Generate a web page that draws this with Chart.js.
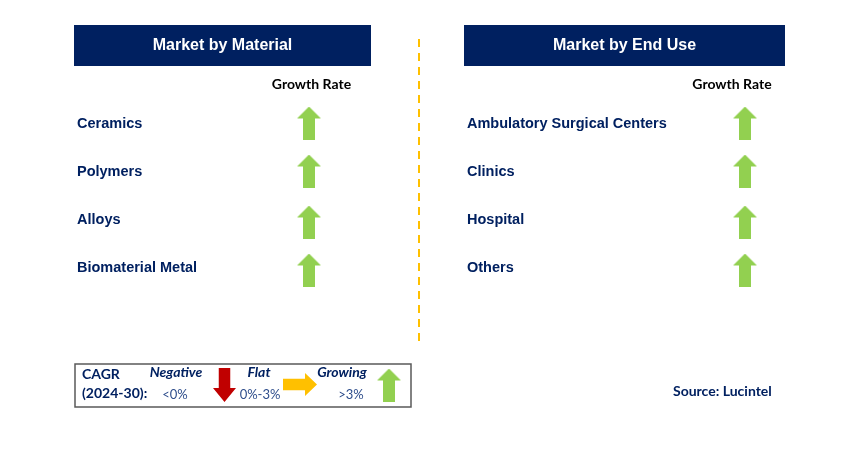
<!DOCTYPE html>
<html>
<head>
<meta charset="utf-8">
<script src="https://cdn.jsdelivr.net/npm/chart.js@4.4.1/dist/chart.umd.min.js"></script>
<style>
  html, body { margin: 0; padding: 0; background: #fff; }
  #myChart { display: block; }
</style>
</head>
<body>
<canvas id="myChart" width="849" height="460"></canvas>
<script>
// data block
const panelTitles = ["Market by Material", "Market by End Use"];
const materials = ["Ceramics", "Polymers", "Alloys", "Biomaterial Metal"];
const materialGrowth = ["Growing", "Growing", "Growing", "Growing"];
const endUses = ["Ambulatory Surgical Centers", "Clinics", "Hospital", "Others"];
const endUseGrowth = ["Growing", "Growing", "Growing", "Growing"];
const legendLabels = ["Negative", "Flat", "Growing"];
const legendRanges = ["<0%", "0%-3%", ">3%"];
const cagrLabel = ["CAGR", "(2024-30):"];
const columnTitle = "Growth Rate";
const sourceText = "Source: Lucintel";

const NAVY = "#002060";
const GREEN = "#92D050";
const RED = "#C00000";
const YELLOW = "#FFC000";

// arrow images used as point styles
function makeArrow(dir, color, w, h) {
  const c = document.createElement("canvas");
  c.width = w;
  c.height = h;
  const ctx = c.getContext("2d");
  ctx.fillStyle = color;
  ctx.beginPath();
  if (dir === "up") {
    const head = Math.round(h * 0.36);
    const sw = w / 2;
    ctx.moveTo(w / 2, 0);
    ctx.lineTo(w, head);
    ctx.lineTo(w / 2 + sw / 2, head);
    ctx.lineTo(w / 2 + sw / 2, h);
    ctx.lineTo(w / 2 - sw / 2, h);
    ctx.lineTo(w / 2 - sw / 2, head);
    ctx.lineTo(0, head);
  } else if (dir === "down") {
    const head = Math.round(h * 0.4);
    const sw = w / 2;
    ctx.moveTo(w / 2, h);
    ctx.lineTo(w, h - head);
    ctx.lineTo(w / 2 + sw / 2, h - head);
    ctx.lineTo(w / 2 + sw / 2, 0);
    ctx.lineTo(w / 2 - sw / 2, 0);
    ctx.lineTo(w / 2 - sw / 2, h - head);
    ctx.lineTo(0, h - head);
  } else {
    const head = Math.round(w * 0.36);
    const sh = h / 2;
    ctx.moveTo(w, h / 2);
    ctx.lineTo(w - head, h);
    ctx.lineTo(w - head, h / 2 + sh / 2);
    ctx.lineTo(0, h / 2 + sh / 2);
    ctx.lineTo(0, h / 2 - sh / 2);
    ctx.lineTo(w - head, h / 2 - sh / 2);
    ctx.lineTo(w - head, 0);
  }
  ctx.closePath();
  ctx.fill();
  return c;
}

const arrowFor = {
  Growing: makeArrow("up", GREEN, 24, 33),
  Flat: makeArrow("right", YELLOW, 34, 23),
  Negative: makeArrow("down", RED, 23, 34),
};

// layout (page pixels)
const rowY = (i) => 123 + i * 48;
const arrowY = (i) => rowY(i) + (i >= 2 ? 3 : 0);
const leftArrowX = 309;
const rightArrowX = 745;
const legendArrowPos = [
  { x: 224.5, y: 385 },
  { x: 300, y: 384.5 },
  { x: 389, y: 385 },
];

const decorPlugin = {
  id: "decor",
  beforeDatasetsDraw(chart) {
    const { ctx, scales } = chart;
    const px = (v) => scales.x.getPixelForValue(v);
    const py = (v) => scales.y.getPixelForValue(v);
    ctx.save();
    // header boxes
    ctx.fillStyle = NAVY;
    ctx.fillRect(px(74), py(25), px(371) - px(74), py(66) - py(25));
    ctx.fillRect(px(464), py(25), px(785) - px(464), py(66) - py(25));
    // legend box
    ctx.strokeStyle = "#595959";
    ctx.lineWidth = 1.5;
    ctx.strokeRect(px(75), py(364), px(411) - px(75), py(407) - py(364));
    ctx.restore();
  },
  afterDatasetsDraw(chart) {
    const { ctx, scales } = chart;
    const px = (v) => scales.x.getPixelForValue(v);
    const py = (v) => scales.y.getPixelForValue(v);
    ctx.save();
    ctx.textBaseline = "middle";

    // header titles
    ctx.fillStyle = "#fff";
    ctx.textAlign = "center";
    ctx.font = "bold 16px 'Liberation Sans', Arial, sans-serif";
    ctx.fillText(panelTitles[0], px(222.5), py(45.5));
    ctx.fillText(panelTitles[1], px(624.5), py(45.5));

    // column titles
    ctx.fillStyle = "#000";
    ctx.font = "bold 14px Lato, sans-serif";
    ctx.fillText(columnTitle, px(311.5), py(84));
    ctx.fillText(columnTitle, px(732), py(84));

    // row labels
    ctx.fillStyle = NAVY;
    ctx.textAlign = "left";
    ctx.font = "bold 14.5px 'Liberation Sans', Arial, sans-serif";
    materials.forEach((m, i) => ctx.fillText(m, px(77), py(rowY(i) + 1)));
    endUses.forEach((m, i) => ctx.fillText(m, px(467), py(rowY(i) + 1)));

    // legend texts
    ctx.font = "bold 14px Lato, sans-serif";
    ctx.fillText(cagrLabel[0], px(82), py(374));
    ctx.fillText(cagrLabel[1], px(82), py(393));
    ctx.textAlign = "center";
    ctx.font = "italic bold 14px Lato, sans-serif";
    const labelX = [176, 259, 342];
    const rangeX = [175, 260, 351];
    legendLabels.forEach((l, i) => ctx.fillText(l, px(labelX[i]), py(372)));
    ctx.fillStyle = "#2F4E8C";
    ctx.font = "13px Lato, sans-serif";
    legendRanges.forEach((l, i) => ctx.fillText(l, px(rangeX[i]), py(395)));

    // source
    ctx.fillStyle = NAVY;
    ctx.textAlign = "left";
    ctx.font = "bold 14px Lato, sans-serif";
    ctx.fillText(sourceText, px(673), py(391));
    ctx.restore();
  },
};

const data = {
  datasets: [
    {
      label: "divider",
      type: "line",
      data: [{ x: 419, y: 39 }, { x: 419, y: 341 }],
      borderColor: YELLOW,
      borderWidth: 2,
      borderDash: [8, 6],
      pointRadius: 0,
    },
    {
      label: "Material",
      data: materials.map((m, i) => ({ x: leftArrowX, y: arrowY(i) })),
      pointStyle: materialGrowth.map((g) => arrowFor[g]),
    },
    {
      label: "End Use",
      data: endUses.map((m, i) => ({ x: rightArrowX, y: arrowY(i) })),
      pointStyle: endUseGrowth.map((g) => arrowFor[g]),
    },
    {
      label: "Legend",
      data: legendArrowPos,
      pointStyle: legendLabels.map((l) => arrowFor[l]),
    },
  ],
};

const config = {
  type: "scatter",
  data: data,
  options: {
    responsive: false,
    animation: false,
    events: [],
    layout: { padding: 0, autoPadding: false },
    scales: {
      x: { type: "linear", min: 0, max: 849, display: false },
      y: { type: "linear", min: 0, max: 460, reverse: true, display: false },
    },
    plugins: {
      legend: { display: false },
      tooltip: { enabled: false },
    },
  },
  plugins: [decorPlugin],
};

const myChart = new Chart(document.getElementById("myChart"), config);
</script>
</body>
</html>
